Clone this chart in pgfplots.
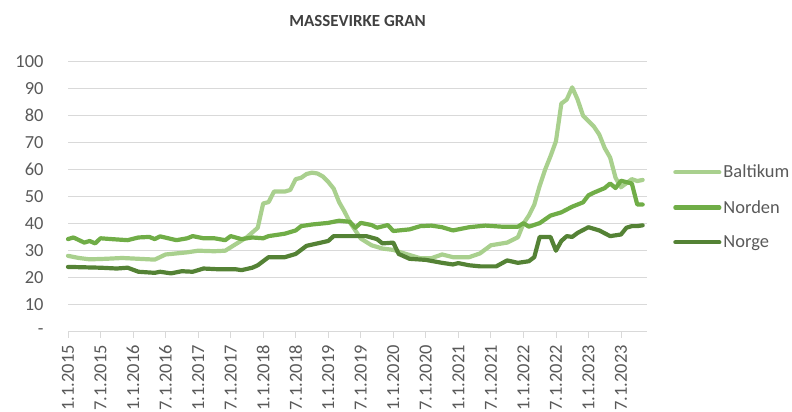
\documentclass[border=0pt]{standalone}
\usepackage{pgfplots}
\pgfplotsset{compat=1.18}
\usepackage{fontspec}
\setmainfont{Carlito}

\definecolor{balt}{RGB}{169,208,142}
\definecolor{nord}{RGB}{112,173,71}
\definecolor{norge}{RGB}{84,130,53}
\definecolor{gridc}{RGB}{217,217,217}
\definecolor{txt}{RGB}{89,89,89}

% month index: 0 = jan 2015
\pgfplotstableread{
m v
0 28.1
2 27.3
4 26.8
7 27.0
10 27.3
13 27.0
16 26.7
18 28.6
20 29.0
22 29.4
24 30.0
27 29.8
29 30.0
31 32.5
33 35.0
35 38.5
36 47.5
37 48.0
38 51.9
40 51.9
41 52.5
42 56.5
43 57.0
44 58.4
45 58.9
46 58.6
47 57.5
48 55.5
49 53.0
50 48.0
51 44.5
52 40.5
53 37.5
54 34.5
56 32.0
58 30.8
60 30.3
62 29.0
65 27.2
67 27.2
69 28.6
71 27.6
74 27.6
76 29.0
78 32.0
81 33.0
83 35.0
84 40.0
85 43.0
86 47.0
87 54.0
88 60.0
89 65.0
90 70.5
91 84.5
92 86.0
93 90.5
94 86.0
95 80.0
96 78.0
97 76.0
98 73.0
99 68.0
100 64.5
101 57.0
102 53.5
103 55.0
104 56.5
105 55.8
106 56.2
}\baltikum

\pgfplotstableread{
m v
0 34.3
1 34.9
3 33.0
4 33.6
5 32.7
6 34.6
8 34.3
11 33.9
13 34.9
15 35.1
16 34.3
17 35.3
20 33.9
22 34.6
23 35.4
25 34.6
27 34.6
29 33.9
30 35.4
32 34.3
34 34.9
36 34.6
37 35.4
40 36.3
42 37.5
43 39.1
45 39.7
48 40.3
50 41.1
52 40.7
53 38.5
54 40.3
56 39.5
57 38.5
59 39.5
60 37.3
63 37.9
65 39.1
67 39.3
69 38.7
71 37.5
74 38.7
77 39.3
80 38.9
83 38.9
84 40.2
85 38.9
87 40.2
89 43.0
90 43.6
91 44.2
93 46.3
95 47.9
96 50.5
97 51.5
99 53.2
100 54.9
101 53.2
102 55.9
104 54.9
105 47.1
106 47.1
}\norden

\pgfplotstableread{
m v
0 24.0
6 23.7
9 23.4
11 23.7
13 22.2
16 21.8
17 22.2
19 21.6
21 22.4
23 22.2
25 23.4
28 23.1
31 23.1
32 22.8
34 23.7
35 24.6
37 27.6
40 27.6
42 28.8
44 31.8
46 32.7
48 33.6
49 35.4
52 35.4
55 35.4
57 34.3
58 32.7
60 33.0
61 28.8
63 27.0
66 26.6
69 25.5
71 24.9
72 25.4
74 24.6
76 24.2
79 24.2
81 26.4
83 25.5
85 26.1
86 27.6
87 35.1
89 35.1
90 30.0
91 33.6
92 35.4
93 35.1
94 36.6
96 38.7
98 37.5
100 35.4
102 36.0
103 38.5
104 39.1
105 39.1
106 39.4
}\norge

\begin{document}
\begin{tikzpicture}
\useasboundingbox (0,0) rectangle (792bp,412bp);
\begin{axis}[
    at={(68bp,80.3bp)}, anchor=south west,
    scale only axis,
    width=579bp, height=270bp,
    xmin=0, xmax=106.8,
    ymin=0, ymax=100,
    ytick={0,10,...,100},
    yticklabels={-,10,20,30,40,50,60,70,80,90,100},
    xtick={0,6,...,102},
    xticklabels={1.1.2015,7.1.2015,1.1.2016,7.1.2016,1.1.2017,7.1.2017,1.1.2018,7.1.2018,1.1.2019,7.1.2019,1.1.2020,7.1.2020,1.1.2021,7.1.2021,1.1.2022,7.1.2022,1.1.2023,7.1.2023},
    /pgf/number format/assume math mode=true,
    ymajorgrids,
    grid style={gridc, line width=0.8bp},
    axis lines*=left,
    y axis line style={draw=none},
    x axis line style={gridc, line width=0.8bp},
    ytick style={draw=none},
    xtick style={gridc, line width=0.8bp},
    tick align=outside,
    major tick length=6bp,
    tick label style={font=\fontsize{18.5}{20}\selectfont, text=txt},
    yticklabel style={anchor=east, xshift=-15bp},
    xticklabel style={rotate=90, anchor=east, xshift=-4bp},
    title={\textbf{MASSEVIRKE GRAN}},
    title style={font=\fontsize{17}{19}\selectfont, text={rgb,255:red,64;green,64;blue,64}, at={(0.5,1)}, anchor=south, yshift=26bp},
    legend style={draw=none, fill=none, at={(axis description cs:1.045,0.625)}, anchor=north west,
        font=\fontsize{18.5}{20}\selectfont, text=txt, row sep=17bp, inner sep=0pt},
    legend cell align=left,
    legend image code/.code={\draw[#1, line cap=round] (0bp,0bp) -- (44bp,0bp);},
    every axis plot/.append style={line width=4.2bp, line join=round, line cap=round, no marks},
    clip=false,
]
\addplot[balt] table[x=m, y=v] {\baltikum};
\addlegendentry{Baltikum}
\addplot[nord] table[x=m, y=v] {\norden};
\addlegendentry{Norden}
\addplot[norge] table[x=m, y=v] {\norge};
\addlegendentry{Norge}
\end{axis}
\end{tikzpicture}
\end{document}
